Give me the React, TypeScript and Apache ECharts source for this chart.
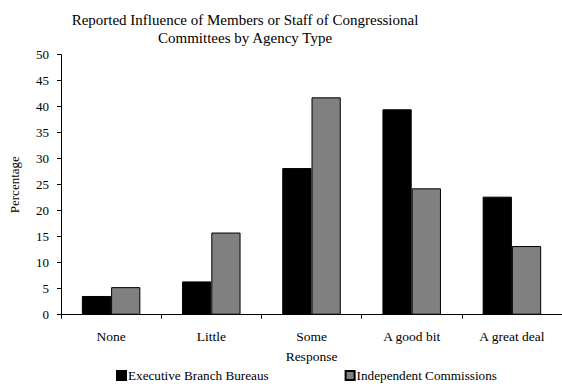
import React, { useEffect, useRef } from "react";
import * as echarts from "echarts";

const categories = ["None", "Little", "Some", "A good bit", "A great deal"];
const executiveBureaus = [3.6, 6.4, 28.2, 39.5, 22.7];
const independentCommissions = [5.3, 15.8, 41.8, 24.3, 13.2];
const seriesNames = ["Executive Branch Bureaus", "Independent Commissions"];

const FONT = "'Liberation Serif', 'Times New Roman', serif";

export default function App() {
  const ref = useRef<HTMLDivElement>(null);

  useEffect(() => {
    if (!ref.current) return;
    const chart = echarts.init(ref.current, undefined, { renderer: "svg" });
    chart.setOption({
      animation: false,
      backgroundColor: "#fff",
      textStyle: { fontFamily: FONT, color: "#000" },
      title: {
        text: "Reported Influence of Members or Staff of Congressional\nCommittees by Agency Type",
        left: 240,
        top: 6,
        textAlign: "center",
        textStyle: {
          fontFamily: FONT,
          fontSize: 15,
          fontWeight: "normal",
          color: "#000",
          lineHeight: 18,
        },
      },
      legend: {
        data: seriesNames,
        left: 111,
        top: 364,
        itemWidth: 9,
        itemHeight: 9,
        itemGap: 76,
        icon: "rect",
        textStyle: { fontFamily: FONT, fontSize: 13.2, color: "#000", padding: [0, 0, 0, -3] },
      },
      grid: { left: 57, top: 54.7, bottom: 72.3, width: 513, containLabel: false },
      xAxis: {
        type: "category",
        data: categories,
        name: "Response",
        nameLocation: "middle",
        nameGap: 35,
        nameTextStyle: { fontFamily: FONT, fontSize: 13.5, color: "#000" },
        axisLine: { lineStyle: { color: "#000", width: 1 } },
        axisTick: { show: true, length: 4, lineStyle: { color: "#000" } },
        axisLabel: { fontFamily: FONT, fontSize: 13.5, color: "#000", margin: 15 },
      },
      yAxis: {
        type: "value",
        min: 0,
        max: 50,
        interval: 5,
        name: "Percentage",
        nameLocation: "middle",
        nameGap: 40,
        nameRotate: 90,
        nameTextStyle: { fontFamily: FONT, fontSize: 13, color: "#000" },
        axisLine: { show: true, lineStyle: { color: "#000", width: 1 } },
        axisTick: { show: true, length: 4, lineStyle: { color: "#000" } },
        axisLabel: { fontFamily: FONT, fontSize: 13, color: "#000", margin: 12 },
        splitLine: { show: false },
      },
      series: [
        {
          name: seriesNames[0],
          type: "bar",
          data: executiveBureaus,
          barGap: "0%",
          barCategoryGap: "41.6%",
          itemStyle: { color: "#000", borderColor: "#000", borderWidth: 1 },
        },
        {
          name: seriesNames[1],
          type: "bar",
          data: independentCommissions,
          barGap: "0%",
          barCategoryGap: "41.6%",
          itemStyle: { color: "#808080", borderColor: "#000", borderWidth: 1 },
        },
      ],
    });
    return () => chart.dispose();
  }, []);

  return <div ref={ref} style={{ width: 562, height: 387, position: "absolute", left: 0, top: 0 }} />;
}
